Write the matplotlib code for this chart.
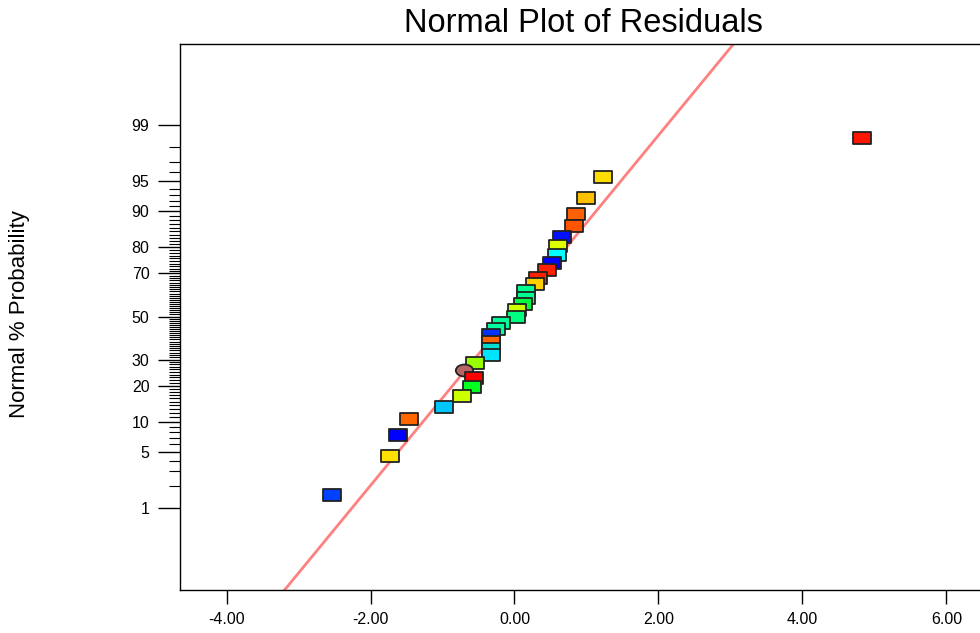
import numpy as np
import matplotlib.pyplot as plt
from matplotlib.path import Path
from statistics import NormalDist

# residuals, sorted ascending
residuals = [-2.54, -1.73, -1.62, -1.47, -0.98, -0.73, -0.59, -0.56, -0.70,
             -0.55, -0.33, -0.33, -0.33, -0.32, -0.25, -0.19, 0.02, 0.04,
             0.12, 0.16, 0.16, 0.29, 0.33, 0.45, 0.52, 0.59, 0.60, 0.66,
             0.83, 0.86, 1.00, 1.23, 4.82]
point_colors = ['#0040FF', '#FFE000', '#0000FF', '#FF6600', '#00C8FF', '#CCFF00',
                '#00FF20', '#FF0000', '#B86464', '#99FF00', '#00E5FF', '#00E0D0',
                '#FF6600', '#0033FF', '#00FFA0', '#00FF99', '#00FF80', '#CCFF00',
                '#00FF40', '#00FF90', '#00FF90', '#FFD000', '#FF2000', '#FF2000',
                '#0000FF', '#00FFFF', '#DDFF00', '#0010FF', '#FF5500', '#FF6000',
                '#FFC000', '#FFDD00', '#FF1500']
ellipse_idx = [8]

major_pct = [1, 5, 10, 20, 30, 50, 70, 80, 90, 95, 99]
xticks = [-4, -2, 0, 2, 4, 6]

# fitted normal line
line_mu = -0.07
line_sigma = 0.94

nd = NormalDist()
n = len(residuals)
zvals = [nd.inv_cdf((i + 0.5) / n) for i in range(n)]

plt.rcParams['font.family'] = ['Liberation Sans', 'DejaVu Sans']

fig = plt.figure(figsize=(9.8, 6.33), dpi=100)
ax = fig.add_axes([180 / 980, 1 - 590 / 633, 806 / 980, 546 / 633])

# reference line
zl = np.array([-4.0, 4.0])
ax.plot(line_mu + line_sigma * zl, zl, color='#FF8080', lw=2, zorder=2)

rect = Path([(-1.45, -1), (1.45, -1), (1.45, 1), (-1.45, 1), (-1.45, -1)],
            [Path.MOVETO, Path.LINETO, Path.LINETO, Path.LINETO, Path.CLOSEPOLY])
circ = Path.unit_circle()
ell = Path(circ.vertices * np.array([1.45, 1.0]), circ.codes)

for i in range(n - 1, -1, -1):
    mk = ell if i in ellipse_idx else rect
    ax.plot(residuals[i], zvals[i], marker=mk, ms=12.5, color=point_colors[i],
            mec='#222222', mew=1.3, ls='none', zorder=3 + (n - i) * 0.01)

ax.set_xlim(-4.646, 6.549)
ax.set_ylim(-3.323, 3.311)

ax.set_xticks(xticks)
ax.set_xticklabels(['%.2f' % v for v in xticks])
ax.set_yticks([nd.inv_cdf(p / 100) for p in major_pct])
ax.set_yticklabels([str(p) for p in major_pct])
minor_pct = [p for p in range(2, 99) if p not in major_pct]
ax.set_yticks([nd.inv_cdf(p / 100) for p in minor_pct], minor=True)

ax.tick_params(axis='y', which='major', length=16, width=1, pad=6, labelsize=11.5)
ax.tick_params(axis='y', which='minor', length=8, width=0.8)
ax.tick_params(axis='x', which='major', length=10, width=1, pad=6, labelsize=11.5)
for s in ax.spines.values():
    s.set_linewidth(1)

fig.text(583 / 980, 1 - 24 / 633, 'Normal Plot of Residuals', fontsize=23.5,
         ha='center', va='center')
fig.text(20 / 980, 1 - 314 / 633, 'Normal % Probability', fontsize=16,
         rotation=90, ha='center', va='center')

fig.savefig('out.png', dpi=100)
